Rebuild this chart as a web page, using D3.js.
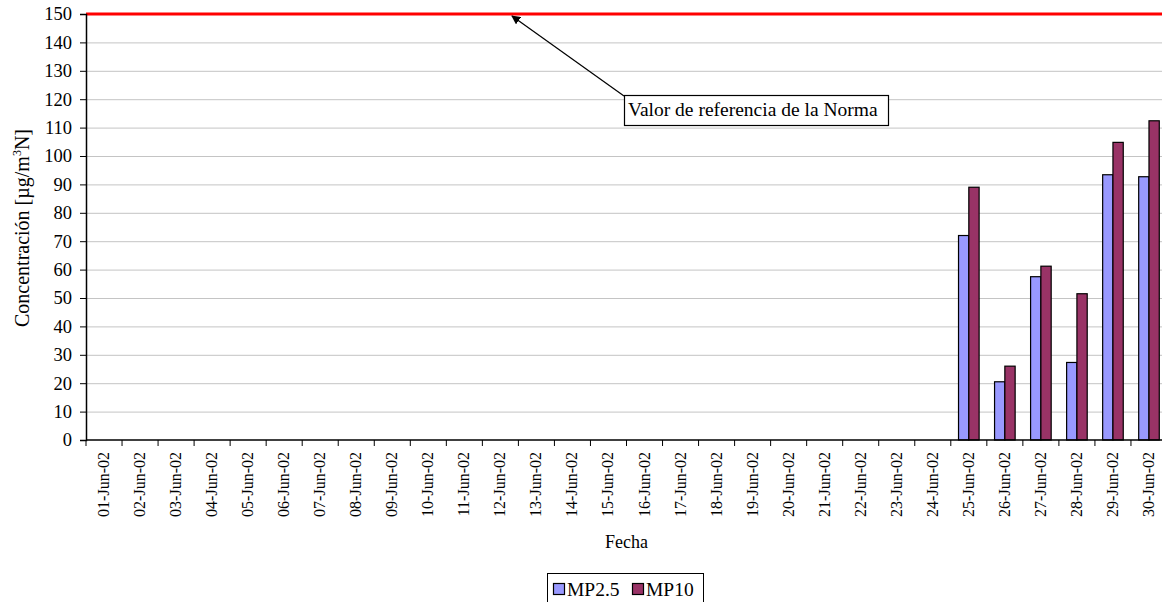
<!DOCTYPE html>
<html>
<head>
<meta charset="utf-8">
<script src="https://cdn.jsdelivr.net/npm/d3@7"></script>
<style>
  html, body { margin: 0; padding: 0; background: #fff; }
  svg { display: block; font-family: "Liberation Serif", "Times New Roman", serif; }
</style>
</head>
<body>
<div id="chart"></div>
<script>
// Daily PM concentrations, June 2002 (only last six days measured)
const dates = d3.range(1, 31).map(d => String(d).padStart(2, '0') + '-Jun-02');
const series = ['MP2.5', 'MP10'];
const mp25 = [null, null, null, null, null, null, null, null, null, null,
              null, null, null, null, null, null, null, null, null, null,
              null, null, null, null, 72, 20.5, 57.5, 27.3, 93.4, 92.7];
const mp10 = [null, null, null, null, null, null, null, null, null, null,
              null, null, null, null, null, null, null, null, null, null,
              null, null, null, null, 89, 26, 61.2, 51.5, 104.8, 112.4];
const yTicks = d3.range(0, 151, 10);
const normValue = 150;
const COLORS = { 'MP2.5': '#9999ff', 'MP10': '#993366' };

const W = 1162, H = 602;
const plotL = 86, plotR = 1167, plotT = 14, plotB = 440;

const svg = d3.select('#chart').append('svg')
  .attr('width', W).attr('height', H);

const x0 = d3.scaleBand().domain(dates).range([plotL, plotR]).padding(0);
const step = x0.step();
const gap = step * 1.5 / 3.5;   // excel gap width 150%
const x1 = d3.scaleBand().domain(series).range([gap / 2, step - gap / 2]).padding(0);
const y = d3.scaleLinear().domain([0, 150]).range([plotB, plotT]);

// gridlines
svg.append('g')
  .selectAll('line')
  .data(yTicks.filter(t => t > 0))
  .join('line')
  .attr('x1', plotL).attr('x2', W)
  .attr('y1', d => y(d) + 0.5).attr('y2', d => y(d) + 0.5)
  .attr('stroke', '#c4c4c4')
  .attr('stroke-width', 1);

// bars
const rows = dates.map((d, i) => ({ date: d, 'MP2.5': mp25[i], 'MP10': mp10[i] }));
const groups = svg.append('g')
  .selectAll('g')
  .data(rows)
  .join('g')
  .attr('transform', d => `translate(${x0(d.date)},0)`);

groups.selectAll('rect')
  .data(d => series.map(s => ({ key: s, value: d[s] })).filter(v => v.value != null))
  .join('rect')
  .attr('x', d => x1(d.key))
  .attr('y', d => y(d.value))
  .attr('width', x1.bandwidth())
  .attr('height', d => plotB - y(d.value))
  .attr('fill', d => COLORS[d.key])
  .attr('stroke', '#000')
  .attr('stroke-width', 1.2);

// reference line
svg.append('line')
  .attr('x1', plotL).attr('x2', W)
  .attr('y1', y(normValue)).attr('y2', y(normValue))
  .attr('stroke', '#ff0000')
  .attr('stroke-width', 3);

// y axis
const yAxis = svg.append('g')
  .attr('transform', `translate(${plotL},0)`)
  .call(d3.axisLeft(y).tickValues(yTicks).tickSize(6).tickPadding(8));
yAxis.select('.domain').attr('stroke', '#000').attr('stroke-width', 1.5);
yAxis.selectAll('.tick line').attr('stroke', '#000');
yAxis.selectAll('text')
  .attr('font-family', '"Liberation Serif", serif')
  .attr('font-size', 18.5)
  .attr('fill', '#000');

// x axis
const xAxis = svg.append('g').attr('transform', `translate(0,${plotB})`);
xAxis.append('line')
  .attr('x1', plotL).attr('x2', W)
  .attr('y1', 0).attr('y2', 0)
  .attr('stroke', '#000').attr('stroke-width', 1.5);
xAxis.selectAll('.xt')
  .data(dates)
  .join('line')
  .attr('class', 'xt')
  .attr('x1', d => x0(d)).attr('x2', d => x0(d))
  .attr('y1', 0).attr('y2', 6)
  .attr('stroke', '#000');
xAxis.selectAll('.xl')
  .data(dates)
  .join('text')
  .attr('class', 'xl')
  .attr('transform', d => `translate(${x0(d) + step / 2 + 5},12) rotate(-90)`)
  .attr('text-anchor', 'end')
  .attr('font-size', 16)
  .attr('fill', '#000')
  .text(d => d);

// axis titles
svg.append('text')
  .attr('x', (plotL + plotR) / 2)
  .attr('y', 548)
  .attr('text-anchor', 'middle')
  .attr('font-size', 18)
  .text('Fecha');

const yt = svg.append('text')
  .attr('transform', 'translate(29,228) rotate(-90)')
  .attr('text-anchor', 'middle')
  .attr('font-size', 20);
yt.append('tspan').text('Concentración [µg/m');
yt.append('tspan').attr('font-size', 12).attr('dy', -8).text('3');
yt.append('tspan').attr('dy', 8).text('N]');

// annotation
svg.append('defs').append('marker')
  .attr('id', 'arrow')
  .attr('viewBox', '0 0 10 10')
  .attr('refX', 9).attr('refY', 5)
  .attr('markerWidth', 9).attr('markerHeight', 9)
  .attr('markerUnits', 'userSpaceOnUse')
  .attr('orient', 'auto')
  .append('path')
  .attr('d', 'M0,0L10,5L0,10Z')
  .attr('fill', '#000');

svg.append('line')
  .attr('x1', 624).attr('y1', 96)
  .attr('x2', 512).attr('y2', y(normValue) + 2)
  .attr('stroke', '#000')
  .attr('stroke-width', 1.2)
  .attr('marker-end', 'url(#arrow)');

svg.append('rect')
  .attr('x', 624.5).attr('y', 95.5)
  .attr('width', 264).attr('height', 30)
  .attr('fill', '#fff')
  .attr('stroke', '#000')
  .attr('stroke-width', 1.2);
svg.append('text')
  .attr('x', 628).attr('y', 116)
  .attr('font-size', 19.5)
  .text('Valor de referencia de la Norma');

// legend
const lg = svg.append('g');
lg.append('rect')
  .attr('x', 547.5).attr('y', 573.5)
  .attr('width', 156).attr('height', 40)
  .attr('fill', '#fff')
  .attr('stroke', '#000');
const legendX = [553, 632];
series.forEach((s, i) => {
  lg.append('rect')
    .attr('x', legendX[i] + 0.5).attr('y', 583.5)
    .attr('width', 11).attr('height', 11)
    .attr('fill', COLORS[s])
    .attr('stroke', '#000')
    .attr('stroke-width', 1.2);
  lg.append('text')
    .attr('x', legendX[i] + 14).attr('y', 596)
    .attr('font-size', 19.5)
    .text(s);
});
</script>
</body>
</html>
